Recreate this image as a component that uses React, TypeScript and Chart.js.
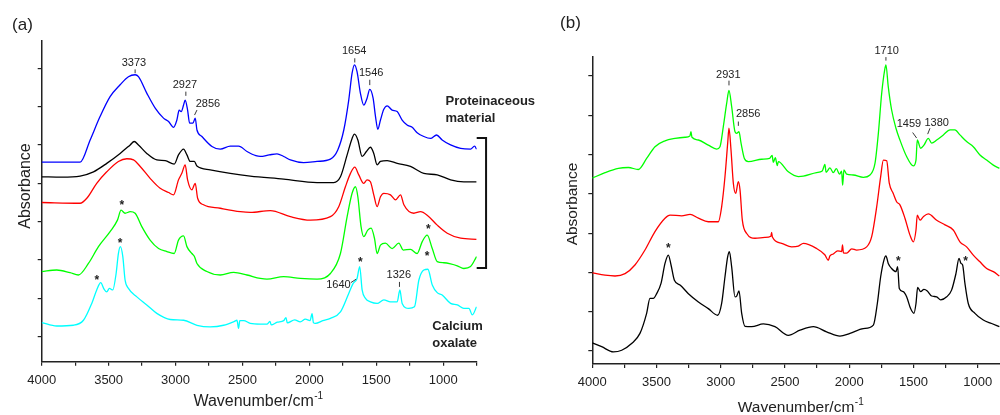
import React, { useEffect, useRef } from 'react';
import { Chart, registerables } from 'chart.js';

Chart.register(...registerables);

const FONT = '"Liberation Sans", Arial, Helvetica, sans-serif';
const INK = '#222222';

// ---------- Panel (a): wavenumber (cm-1), absorbance (offset, arb. units) ----------
const blueA: number[][] = [
  [4000, 4.55], [3713, 4.55], [3638, 5.13], [3564, 5.74], [3489, 6.26], [3414, 6.57], [3352, 6.78], [3302, 6.83],
  [3277, 6.78], [3215, 6.35], [3152, 5.96], [3090, 5.7], [3052, 5.61], [3015, 5.46], [2990, 5.65], [2973, 5.91],
  [2958, 5.87], [2940, 6.04], [2928, 6.17], [2910, 5.91], [2895, 5.57], [2870, 5.57], [2853, 5.7], [2840, 5.39],
  [2803, 5.22], [2728, 4.96], [2666, 4.89], [2591, 4.97], [2529, 4.97], [2466, 4.83], [2400, 4.72], [2367, 4.7],
  [2300, 4.74], [2242, 4.77], [2192, 4.7], [2142, 4.61], [2043, 4.54], [1943, 4.57], [1843, 4.63], [1788, 4.87],
  [1743, 5.39], [1706, 6.17], [1681, 6.87], [1663, 7.09], [1644, 6.91], [1619, 6.35], [1594, 6.04], [1569, 6.22],
  [1549, 6.45], [1524, 6.22], [1506, 5.74], [1489, 5.41], [1469, 5.65], [1444, 5.93], [1419, 6.02], [1382, 5.91],
  [1344, 5.87], [1307, 5.65], [1270, 5.52], [1232, 5.46], [1195, 5.32], [1145, 5.22], [1095, 5.17], [1050, 5.26],
  [1008, 5.13], [945, 5.0], [870, 4.91], [796, 4.89], [766, 4.97], [751, 4.89],
];
const blackA: number[][] = [
  [4000, 4.17], [3850, 4.16], [3713, 4.19], [3613, 4.3], [3514, 4.52], [3414, 4.78], [3339, 5.0], [3309, 5.09],
  [3277, 5.0], [3215, 4.78], [3140, 4.61], [3077, 4.59], [3010, 4.5], [2978, 4.74], [2940, 4.89], [2915, 4.74],
  [2890, 4.57], [2860, 4.57], [2840, 4.45], [2741, 4.35], [2591, 4.26], [2442, 4.19], [2192, 4.11], [1943, 4.02],
  [1818, 4.02], [1768, 4.17], [1718, 4.74], [1681, 5.17], [1663, 5.28], [1638, 5.13], [1606, 4.7], [1574, 4.83],
  [1544, 4.94], [1519, 4.78], [1494, 4.48], [1469, 4.57], [1419, 4.59], [1344, 4.52], [1245, 4.44], [1145, 4.26],
  [1045, 4.22], [945, 4.09], [846, 4.04], [751, 4.04],
];
const redA: number[][] = [
  [4000, 3.5], [3713, 3.48], [3663, 3.61], [3589, 4.0], [3514, 4.3], [3427, 4.57], [3364, 4.64], [3314, 4.61],
  [3264, 4.44], [3190, 4.13], [3115, 3.87], [3052, 3.76], [3015, 3.7], [2978, 4.09], [2953, 4.26], [2928, 4.48],
  [2910, 4.09], [2878, 3.83], [2853, 4.0], [2835, 3.61], [2791, 3.44], [2666, 3.35], [2516, 3.26], [2442, 3.24],
  [2292, 3.29], [2142, 3.13], [1993, 3.04], [1843, 3.13], [1781, 3.39], [1731, 3.91], [1693, 4.26], [1661, 4.42],
  [1631, 4.22], [1594, 4.0], [1569, 4.09], [1544, 4.04], [1519, 3.7], [1494, 3.39], [1469, 3.65], [1444, 3.74],
  [1394, 3.7], [1357, 3.57], [1319, 3.7], [1294, 3.44], [1220, 3.22], [1170, 3.26], [1120, 3.17], [1045, 2.91],
  [970, 2.7], [870, 2.57], [751, 2.54],
];
const greenA: number[][] = [
  [4000, 1.7], [3888, 1.74], [3788, 1.67], [3726, 1.61], [3651, 1.91], [3576, 2.35], [3489, 2.74], [3434, 3.04],
  [3407, 3.3], [3377, 3.22], [3339, 3.26], [3302, 3.22], [3252, 2.87], [3190, 2.52], [3127, 2.3], [3065, 2.22],
  [3010, 2.17], [2978, 2.52], [2940, 2.63], [2915, 2.35], [2878, 2.17], [2860, 2.1], [2840, 1.91], [2766, 1.7],
  [2666, 1.61], [2566, 1.68], [2466, 1.61], [2367, 1.52], [2317, 1.5], [2192, 1.57], [2068, 1.52], [1943, 1.5],
  [1843, 1.65], [1768, 2.17], [1718, 3.13], [1681, 3.74], [1656, 3.91], [1638, 3.65], [1614, 2.87], [1594, 2.61],
  [1564, 2.78], [1539, 2.83], [1514, 2.57], [1494, 2.17], [1469, 2.39], [1432, 2.44], [1382, 2.3], [1332, 2.44],
  [1299, 2.26], [1245, 2.28], [1195, 2.17], [1157, 2.48], [1120, 2.65], [1082, 2.3], [1045, 1.96], [995, 1.93],
  [945, 1.9], [895, 1.85], [846, 1.78], [796, 1.83], [751, 2.09],
];
const cyanA: number[][] = [
  [4000, 0.37], [3888, 0.28], [3763, 0.3], [3688, 0.43], [3626, 0.87], [3589, 1.22], [3559, 1.41], [3534, 1.24],
  [3514, 1.17], [3494, 1.26], [3469, 1.22], [3444, 1.65], [3427, 2.17], [3412, 2.35], [3394, 2.09], [3377, 1.48],
  [3352, 1.26], [3289, 1.04], [3215, 0.83], [3140, 0.61], [3040, 0.45], [2940, 0.43], [2840, 0.3], [2741, 0.26],
  [2641, 0.3], [2560, 0.4], [2541, 0.43], [2529, 0.22], [2520, 0.42], [2491, 0.42], [2442, 0.35], [2367, 0.33],
  [2317, 0.33], [2295, 0.4], [2285, 0.31], [2240, 0.38], [2192, 0.42], [2175, 0.5], [2165, 0.36], [2110, 0.44],
  [2068, 0.39], [2030, 0.46], [1995, 0.42], [1980, 0.6], [1970, 0.37], [1955, 0.35], [1900, 0.42], [1843, 0.48],
  [1768, 0.65], [1706, 1.13], [1673, 1.39], [1644, 1.52], [1624, 1.83], [1606, 1.22], [1581, 1.0], [1544, 0.91],
  [1494, 0.87], [1444, 0.96], [1394, 0.91], [1344, 0.91], [1324, 1.22], [1307, 0.87], [1257, 0.74], [1215, 0.78],
  [1182, 1.48], [1145, 1.74], [1115, 1.76], [1082, 1.35], [1045, 1.15], [1008, 1.09], [945, 0.87], [895, 0.83],
  [846, 0.74], [808, 0.74], [783, 0.57], [751, 0.78],
];

// ---------- Panel (b) ----------
const greenB: number[][] = [
  [4000, 4.4], [3901, 4.54], [3797, 4.65], [3719, 4.67], [3642, 4.62], [3577, 4.9], [3512, 5.2], [3434, 5.35],
  [3356, 5.41], [3278, 5.44], [3240, 5.47], [3232, 5.58], [3224, 5.44], [3174, 5.37], [3097, 5.24], [3032, 5.14],
  [3006, 5.2], [2980, 5.71], [2954, 6.3], [2936, 6.63], [2915, 6.22], [2889, 5.58], [2876, 5.54], [2858, 5.58],
  [2842, 5.29], [2816, 4.9], [2785, 4.82], [2681, 4.88], [2620, 4.9], [2600, 4.98], [2591, 4.8], [2575, 4.92],
  [2560, 4.72], [2552, 4.82], [2474, 4.56], [2396, 4.44], [2357, 4.45], [2254, 4.54], [2210, 4.58], [2189, 4.75],
  [2180, 4.55], [2150, 4.66], [2124, 4.54], [2100, 4.64], [2075, 4.5], [2059, 4.58], [2051, 4.22], [2041, 4.61],
  [2020, 4.5], [1968, 4.48], [1890, 4.42], [1838, 4.48], [1799, 4.78], [1773, 5.54], [1747, 6.56], [1724, 7.15],
  [1714, 7.28], [1696, 6.73], [1670, 6.14], [1636, 5.67], [1605, 5.37], [1553, 4.95], [1501, 4.71], [1480, 4.86],
  [1470, 5.37], [1444, 5.16], [1418, 5.24], [1384, 5.41], [1358, 5.29], [1319, 5.37], [1267, 5.5], [1215, 5.63],
  [1177, 5.63], [1138, 5.5], [1086, 5.33], [1034, 5.2], [982, 4.99], [930, 4.86], [878, 4.73], [831, 4.65],
];
const redB: number[][] = [
  [4000, 1.99], [3901, 1.93], [3823, 1.91], [3745, 1.97], [3668, 2.19], [3590, 2.57], [3512, 3.04], [3434, 3.38],
  [3395, 3.46], [3304, 3.44], [3239, 3.48], [3174, 3.38], [3097, 3.29], [3019, 3.29], [2993, 3.67], [2967, 4.44],
  [2946, 5.29], [2936, 5.67], [2920, 5.11], [2902, 4.27], [2884, 4.01], [2863, 4.31], [2850, 4.1], [2832, 3.33],
  [2798, 2.99], [2733, 2.87], [2656, 2.89], [2610, 2.92], [2604, 3.02], [2598, 2.9], [2526, 2.74], [2448, 2.65],
  [2396, 2.67], [2357, 2.74], [2254, 2.61], [2190, 2.45], [2163, 2.31], [2150, 2.42], [2124, 2.47], [2090, 2.55],
  [2059, 2.53], [2052, 2.7], [2045, 2.5], [2020, 2.49], [1980, 2.6], [1942, 2.57], [1864, 2.65], [1825, 2.91],
  [1786, 3.67], [1755, 4.44], [1734, 4.86], [1708, 4.84], [1688, 4.27], [1657, 4.01], [1631, 3.8], [1605, 3.72],
  [1566, 3.38], [1527, 2.95], [1501, 2.78], [1480, 3.08], [1470, 3.46], [1449, 3.33], [1423, 3.42], [1384, 3.49],
  [1319, 3.33], [1254, 3.21], [1190, 3.08], [1138, 2.78], [1086, 2.65], [1034, 2.44], [982, 2.27], [930, 2.1],
  [878, 2.02], [831, 1.91],
];
const blackB: number[][] = [
  [4000, 0.21], [3927, 0.11], [3836, -0.02], [3771, 0.02], [3694, 0.19], [3629, 0.45], [3577, 0.96], [3551, 1.34],
  [3525, 1.34], [3499, 1.46], [3465, 1.72], [3434, 2.23], [3408, 2.44], [3387, 2.19], [3361, 1.8], [3317, 1.68],
  [3252, 1.46], [3174, 1.25], [3097, 1.08], [3024, 0.91], [2993, 1.21], [2967, 1.89], [2946, 2.4], [2933, 2.53],
  [2915, 2.14], [2889, 1.38], [2876, 1.4], [2858, 1.53], [2837, 0.96], [2811, 0.63], [2759, 0.62], [2668, 0.69],
  [2578, 0.62], [2474, 0.4], [2383, 0.53], [2279, 0.62], [2176, 0.49], [2072, 0.38], [1994, 0.45], [1890, 0.57],
  [1812, 0.66], [1781, 1.21], [1755, 1.89], [1729, 2.32], [1714, 2.42], [1696, 2.23], [1670, 2.1], [1636, 2.02],
  [1623, 2.15], [1610, 1.59], [1579, 1.51], [1553, 1.38], [1522, 1.08], [1496, 0.96], [1480, 1.21], [1467, 1.62],
  [1444, 1.51], [1418, 1.57], [1392, 1.53], [1358, 1.4], [1319, 1.38], [1288, 1.3], [1241, 1.38], [1203, 1.55],
  [1169, 1.97], [1145, 2.36], [1130, 2.23], [1117, 2.19], [1099, 1.72], [1073, 1.21], [1021, 0.96], [956, 0.79],
  [891, 0.7], [831, 0.62],
];

// peak labels: text, label centre (wn, abs), tick segment [wn1, abs1, wn2, abs2]
type Note = { text: string; wn: number; abs: number; tick: number[] };
const notesA: Note[] = [
  { text: '3373', wn: 3311, abs: 7.15, tick: [3302, 6.97, 3302, 6.87] },
  { text: '2927', wn: 2930, abs: 6.57, tick: [2923, 6.39, 2923, 6.28] },
  { text: '2856', wn: 2758, abs: 6.06, tick: [2858, 5.78, 2840, 5.91] },
  { text: '1654', wn: 1665, abs: 7.46, tick: [1661, 7.26, 1661, 7.15] },
  { text: '1546', wn: 1538, abs: 6.87, tick: [1549, 6.7, 1549, 6.56] },
  { text: '1640', wn: 1783, abs: 1.35, tick: [1691, 1.41, 1651, 1.5] },
  { text: '1326', wn: 1332, abs: 1.61, tick: [1327, 1.43, 1327, 1.3] },
];
const starsA: number[][] = [
  [3402, 3.52], [3414, 2.52], [3589, 1.56], [1619, 2.02], [1112, 2.89], [1120, 2.19],
];
const notesB: Note[] = [
  { text: '2931', wn: 2941, abs: 7.03, tick: [2936, 6.88, 2936, 6.76] },
  { text: '2856', wn: 2786, abs: 6.04, tick: [2863, 5.84, 2863, 5.73] },
  { text: '1710', wn: 1708, abs: 7.64, tick: [1714, 7.48, 1714, 7.39] },
  { text: '1459', wn: 1535, abs: 5.78, tick: [1506, 5.56, 1475, 5.42] },
  { text: '1380', wn: 1319, abs: 5.81, tick: [1371, 5.67, 1389, 5.52] },
];
const starsB: number[][] = [[3408, 2.7], [1618, 2.36], [1093, 2.36]];

// group labels (left edge wn, centre abs)
const groupLabelsA = [
  { text: 'Proteinaceous', wn: 983, abs: 6.13 },
  { text: 'material', wn: 983, abs: 5.7 },
  { text: 'Calcium', wn: 1082, abs: 0.28 },
  { text: 'oxalate', wn: 1082, abs: -0.17 },
];
const bracketA = { wnIn: 750, wnOut: 680, top: 5.18, bottom: 1.79 };

const absTicks = [0, 1, 2, 3, 4, 5, 6, 7];

interface Spec {
  width: number;
  left: number;
  series: { data: number[][]; color: string }[];
  wnMin: number;
  wnMax: number;
  absMin: number;
  absMax: number;
  padTop: number;
  padRight: number;
  yWidth: number;
  xHeight: number;
  notes: Note[];
  stars: number[][];
  panel: { text: string; x: number; y: number };
  yTitle: { x: number; y: number; size: number };
  xTitle: { cx: number; y: number; size: number };
  groups?: { text: string; wn: number; abs: number }[];
  bracket?: { wnIn: number; wnOut: number; top: number; bottom: number };
}

function overlay(spec: Spec) {
  return {
    id: 'overlay' + spec.panel.text,
    afterDraw(chart: any) {
      const ctx: CanvasRenderingContext2D = chart.ctx;
      const xs = chart.scales.x;
      const ys = chart.scales.y;
      const px = (v: number) => xs.getPixelForValue(v);
      const py = (v: number) => ys.getPixelForValue(v);
      ctx.save();
      ctx.fillStyle = INK;
      ctx.strokeStyle = INK;

      // peak labels + ticks
      ctx.font = `11px ${FONT}`;
      ctx.textAlign = 'center';
      ctx.textBaseline = 'middle';
      ctx.lineWidth = 0.9;
      for (const n of spec.notes) {
        ctx.fillText(n.text, px(n.wn), py(n.abs));
        ctx.beginPath();
        ctx.moveTo(px(n.tick[0]), py(n.tick[1]));
        ctx.lineTo(px(n.tick[2]), py(n.tick[3]));
        ctx.stroke();
      }
      // stars
      ctx.font = `bold 12px ${FONT}`;
      ctx.textBaseline = 'alphabetic';
      for (const s of spec.stars) ctx.fillText('*', px(s[0]), py(s[1]) + 7);

      // group labels
      if (spec.groups) {
        ctx.font = `bold 13px ${FONT}`;
        ctx.textAlign = 'left';
        ctx.textBaseline = 'middle';
        for (const g of spec.groups) ctx.fillText(g.text, px(g.wn), py(g.abs));
      }
      if (spec.bracket) {
        const b = spec.bracket;
        ctx.lineWidth = 2;
        ctx.strokeStyle = '#111';
        ctx.beginPath();
        ctx.moveTo(px(b.wnIn), py(b.top));
        ctx.lineTo(px(b.wnOut), py(b.top));
        ctx.lineTo(px(b.wnOut), py(b.bottom));
        ctx.lineTo(px(b.wnIn), py(b.bottom));
        ctx.stroke();
      }

      // panel label
      ctx.font = `17px ${FONT}`;
      ctx.textAlign = 'center';
      ctx.textBaseline = 'middle';
      ctx.fillText(spec.panel.text, spec.panel.x, spec.panel.y);

      // y title
      ctx.save();
      ctx.translate(spec.yTitle.x, spec.yTitle.y);
      ctx.rotate(-Math.PI / 2);
      ctx.font = `${spec.yTitle.size}px ${FONT}`;
      ctx.textAlign = 'center';
      ctx.textBaseline = 'alphabetic';
      ctx.fillText('Absorbance', 0, 0);
      ctx.restore();

      // x title with superscript
      const main = 'Wavenumber/cm';
      const sup = '-1';
      ctx.font = `${spec.xTitle.size}px ${FONT}`;
      const w1 = ctx.measureText(main).width;
      ctx.font = `${Math.round(spec.xTitle.size * 0.62)}px ${FONT}`;
      const w2 = ctx.measureText(sup).width;
      const x0 = spec.xTitle.cx - (w1 + w2) / 2;
      ctx.textAlign = 'left';
      ctx.textBaseline = 'alphabetic';
      ctx.font = `${spec.xTitle.size}px ${FONT}`;
      ctx.fillText(main, x0, spec.xTitle.y);
      ctx.font = `${Math.round(spec.xTitle.size * 0.62)}px ${FONT}`;
      ctx.fillText(sup, x0 + w1 + 0.5, spec.xTitle.y - 7);
      ctx.restore();
    },
  };
}

function makeConfig(spec: Spec): any {
  return {
    type: 'line',
    data: {
      datasets: spec.series.map((s) => ({
        data: s.data.map((p) => ({ x: p[0], y: p[1] })),
        borderColor: s.color,
        borderWidth: 1.3,
        pointRadius: 0,
        fill: false,
        cubicInterpolationMode: 'monotone',
      })),
    },
    options: {
      responsive: false,
      animation: false,
      devicePixelRatio: 1,
      layout: { autoPadding: false, padding: { top: spec.padTop, right: spec.padRight, left: 0, bottom: 0 } },
      plugins: { legend: { display: false }, tooltip: { enabled: false } },
      scales: {
        x: {
          type: 'linear',
          reverse: true,
          min: spec.wnMin,
          max: spec.wnMax,
          afterFit: (s: any) => {
            s.height = spec.xHeight;
          },
          border: { display: true, color: INK, width: 1.5 },
          grid: { display: true, drawOnChartArea: false, drawTicks: true, tickLength: 4, color: INK, lineWidth: 1.2 },
          ticks: {
            stepSize: 250,
            includeBounds: false,
            autoSkip: false,
            maxRotation: 0,
            padding: 7,
            color: INK,
            font: { family: FONT, size: 13 },
            callback: (v: number) => (v % 500 === 0 ? String(v) : ''),
          },
        },
        y: {
          type: 'linear',
          min: spec.absMin,
          max: spec.absMax,
          afterFit: (s: any) => {
            s.width = spec.yWidth;
          },
          afterBuildTicks: (s: any) => {
            s.ticks = absTicks.map((v) => ({ value: v }));
          },
          border: { display: true, color: INK, width: 1.5 },
          grid: { display: true, drawOnChartArea: false, drawTicks: true, tickLength: 4, color: INK, lineWidth: 1.2 },
          ticks: { callback: () => '', font: { family: FONT, size: 12 } },
        },
      },
    },
    plugins: [overlay(spec)],
  };
}

const specA: Spec = {
  width: 540,
  left: 0,
  series: [
    { data: blueA, color: '#0000ff' },
    { data: blackA, color: '#000000' },
    { data: redA, color: '#ff0000' },
    { data: greenA, color: '#00ff00' },
    { data: cyanA, color: '#00ffff' },
  ],
  wnMin: 750,
  wnMax: 4000,
  absMin: -0.65,
  absMax: 7.71,
  padTop: 41,
  padRight: 540 - 476.7,
  yWidth: 41.7,
  xHeight: 415 - 361.7,
  notes: notesA,
  stars: starsA,
  panel: { text: '(a)', x: 22.5, y: 25 },
  yTitle: { x: 30, y: 186, size: 16 },
  xTitle: { cx: 258, y: 405.7, size: 16 },
  groups: groupLabelsA,
  bracket: bracketA,
};

const specB: Spec = {
  width: 460,
  left: 540,
  series: [
    { data: greenB, color: '#00ff00' },
    { data: redB, color: '#ff0000' },
    { data: blackB, color: '#000000' },
  ],
  wnMin: 826,
  wnMax: 4000,
  absMin: -0.33,
  absMax: 7.49,
  padTop: 56.7,
  padRight: 0,
  yWidth: 592.3 - 540,
  xHeight: 415 - 364,
  notes: notesB,
  stars: starsB,
  panel: { text: '(b)', x: 30.5, y: 23.3 },
  yTitle: { x: 37, y: 204, size: 15.5 },
  xTitle: { cx: 260.5, y: 412, size: 15.5 },
};

function Panel({ spec }: { spec: Spec }) {
  const ref = useRef<HTMLCanvasElement>(null);
  useEffect(() => {
    const chart = new Chart(ref.current as HTMLCanvasElement, makeConfig(spec));
    return () => chart.destroy();
  }, [spec]);
  return (
    <canvas
      ref={ref}
      width={spec.width}
      height={415}
      style={{ position: 'absolute', left: spec.left, top: 0, width: spec.width, height: 415 }}
    />
  );
}

export default function App() {
  return (
    <div style={{ position: 'absolute', left: 0, top: 0, width: 1000, height: 415, background: '#ffffff', overflow: 'hidden' }}>
      <Panel spec={specA} />
      <Panel spec={specB} />
    </div>
  );
}
